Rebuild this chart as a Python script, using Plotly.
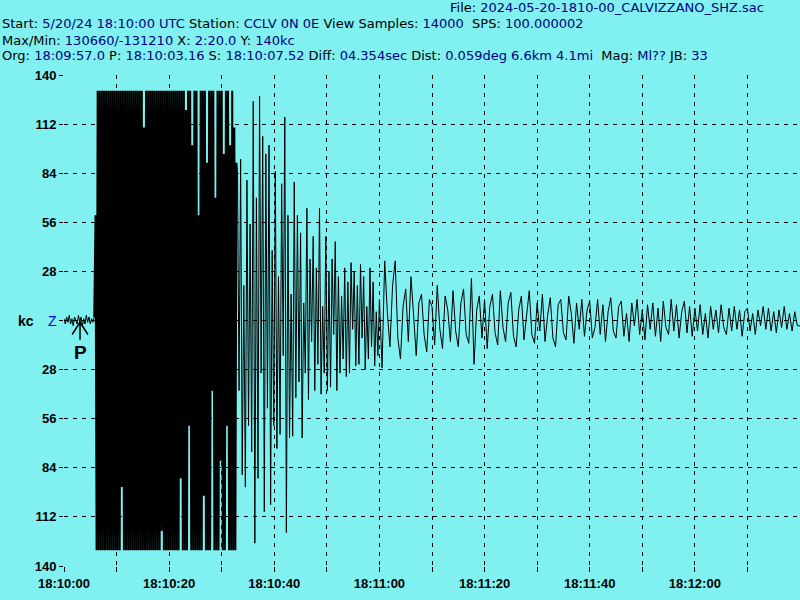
import numpy as np
import plotly.graph_objects as go

# ---- data (kc counts) ----
noise_t0, noise_dt = 0.0, 0.25
noise_vals = [1, -2, 2, -1, 3, -2, 1, -3, 2, 0, -2, 3, -1, 2, -3, 1, -2, 3, -1, 2, -2, 1, -1, 2]

strong_t0, strong_dt = 6.0, 0.2
strong_vals = [
    60, -131, 131, -131, 131, -131, 131, -131, 131, -131,
    131, -131, 131, -131, 131, -131, 131, -131, 131, -131,
    131, -131, 131, -131, 131, -95, 131, -131, 131, -131,
    131, -131, 131, -131, 131, -131, 131, -131, 131, -131,
    131, -131, 131, -131, 131, -131, 110, -131, 131, -131,
    131, -131, 131, -131, 131, -131, 131, -131, 131, -131,
    131, -131, 131, -120, 131, -131, 131, -131, 131, -131,
    131, -131, 131, -131, 131, -131, 131, -131, 131, -131,
    131, -90, 131, -131, 131, -131, 120, -131, 131, -60,
    131, -131, 100, -131, 131, -131, 131, -131, 60, -131,
    131, -131, 131, -100, 131, -131, 90, -131, 131, -131,
    131, -40, 131, -131, 70, -131, 131, -131, 131, -80,
    131, -131, 95, -131, 131, -60, 131, -131, 100, -131,
    131, -131, 110, -131, 90,
]

decay_t0, decay_dt = 33.0, 0.3
decay_vals = [
    85, -40, 92, -88, 20, -95, 80, -60, 55, -75,
    125, -127, 70, -90, 128, -30, 105, -109, 95, -50,
    100, -105, 40, -60, 85, -73, 25, -65, 78, -20,
    116, -121, 60, -67, 15, -66, 79, -44, 60, -35,
    50, -67, 10, -30, 64, -45, 35, -12, 48, -40,
    30, -25, 64, -42, 8, -30, 48, -40, 28, -38,
    35, -8, 45, -40, 25, -30, 14, -22, 30, -32,
    22, -30, 33, -5, 28, -26, 20, -25, 32, -10,
    25, -28, 8, -22, 30, -15, 22, -26, 5, -20,
]

coda_t0, coda_dt = 60.0, 0.5
coda_vals = [
    12, -27, 34, 5, -15, 20, 34, -10, -22, 8,
    18, -12, 25, 3, -20, 10, 15, -8, -18, 12,
    8, -14, 20, -5, -16, 14, 6, -12, 17, -6,
    -15, 10, 18, -8, -13, 24, -25, 6, 14, -10,
    12, -16, 8, 15, -7, -14, 17, -4, -12, 10,
    16, -9, -15, 6, 14, -11, 5, 17, -8, -13,
    10, -6, 15, -12, 3, 13, -10, -15, 9, 12,
    -7, -11, 14, 4, -13, 10, -5, 12, -9, 6,
    11, -10, -4, 12, -8, 9, -12, 5, 13, -6,
    -10, 8, 11, -9, 4, -12, 10, -3, 12, -8,
    6, -11, 9, -5, 10, -9, 7, -12, 11, -4,
    -8, 12, -6, 9, -10, 5, 11, -7, 8, -9,
    7, -6, 9, -8, 4, -10, 8, -5, 6, -7,
    9, -4, -8, 7, -6, 8, -5, 6, -9, 5,
    7, -6, 4, -8, 6, -3, 8, -5, 7, -6,
    5, -7, 6, -4, 8, -5, 4, -6, 5, -3,
]

p_pick_time = 3.05  # marker position of the P pick on the time axis (s)

x_tick_vals = [0, 10, 20, 30, 40, 50, 60, 70, 80, 90, 100, 110, 120, 130]
x_tick_text = ["18:10:00", "", "18:10:20", "", "18:10:40", "", "18:11:00", "",
               "18:11:20", "", "18:11:40", "", "18:12:00", ""]
y_tick_vals = [140, 112, 84, 56, 28, 0, -28, -56, -84, -112, -140]
y_tick_text = ["140", "112", "84", "56", "28", "", "28", "56", "84", "112", "140"]

BG = "#80F0F0"
NAVY = "#000080"
FONT = "Liberation Sans"
HFONT = "DejaVu Sans"

fig = go.Figure()

# ---- one trace per segment, joined end to start ----
segments = [(noise_t0, noise_dt, noise_vals, 1),
            (strong_t0, strong_dt, strong_vals, 2),
            (decay_t0, decay_dt, decay_vals, 1),
            (coda_t0, coda_dt, coda_vals, 1)]
prev = None
for t0, dt, vals, w in segments:
    ts = (t0 + dt * np.arange(len(vals))).tolist()
    vs = list(vals)
    if prev is not None:
        ts = [prev[0]] + ts
        vs = [prev[1]] + vs
    prev = (ts[-1], vs[-1])
    fig.add_trace(go.Scatter(x=ts, y=vs, mode="lines", line=dict(color="black", width=w),
                             hoverinfo="skip", showlegend=False))
fig.add_trace(go.Scatter(x=[prev[0], 140.0], y=[prev[1], coda_vals[-1]], mode="lines",
                         line=dict(color="black", width=1), hoverinfo="skip", showlegend=False))

grid = dict(showgrid=True, gridcolor="black", gridwidth=1, griddash="4px,5px", zeroline=False,
            showline=False, ticks="outside", tickcolor="black", tickwidth=1)
fig.update_xaxes(range=[0, 140], tickmode="array", tickvals=x_tick_vals, ticktext=x_tick_text,
                 ticklen=5, tickfont=dict(family=FONT, size=13, color="black", weight="bold"), **grid)
fig.update_yaxes(range=[-140, 140], tickmode="array", tickvals=y_tick_vals, ticktext=y_tick_text,
                 ticklen=4, tickfont=dict(family=FONT, size=13, color="black", weight="bold"), **grid)

L, T, W, H = 64, 75, 736, 491


def px(x):
    return (x - L) / W


def py(y):
    return (T + H - y) / H


def span(s):
    return f"<span style='color:{NAVY}'>{s}</span>"


header = [
    (448, 8, "File: " + span("2024-05-20-1810-00_CALVIZZANO_SHZ.sac")),
    (0, 23, "Start: " + span("5/20/24 18:10:00 UTC") + " Station: " + span("CCLV 0N 0E")
     + " View Samples: " + span("14000") + "&nbsp; SPS: " + span("100.000002")),
    (0, 40, "Max/Min: " + span("130660/-131210") + " X: " + span("2:20.0") + " Y: " + span("140kc")),
    (0, 56, "Org: " + span("18:09:57.0") + " P: " + span("18:10:03.16") + " S: " + span("18:10:07.52")
     + " Diff: " + span("04.354sec") + " Dist: " + span("0.059deg 6.6km 4.1mi") + "&nbsp; Mag: "
     + span("Ml??") + " JB: " + span("33")),
]
for x, y, txt in header:
    fig.add_annotation(x=px(x), y=py(y), xref="paper", yref="paper", xanchor="left", yanchor="middle",
                       text=txt, showarrow=False, font=dict(family=HFONT, size=13, color="black"))

fig.add_annotation(x=px(26), y=0, xref="paper", yref="y", xanchor="center", yanchor="middle",
                   text="kc", showarrow=False,
                   font=dict(family=FONT, size=14, color="black", weight="bold"))
fig.add_annotation(x=px(52.5), y=0, xref="paper", yref="y", xanchor="center", yanchor="middle",
                   text="Z", showarrow=False, font=dict(family=FONT, size=14, color="#0000C0"))

# P pick marker: open arrow head with stem, label below
fig.add_shape(type="path", xref="x", yref="y",
              path=(f"M {p_pick_time - 1.5} -8 L {p_pick_time} -1 L {p_pick_time + 1.5} -8 "
                    f"M {p_pick_time} -1 L {p_pick_time} -11"),
              line=dict(color="black", width=1.5))
fig.add_annotation(x=p_pick_time, y=-18, xref="x", yref="y", xanchor="center", yanchor="middle",
                   text="P", showarrow=False,
                   font=dict(family=FONT, size=19, color="black", weight="bold"))

fig.update_layout(width=800, height=600, margin=dict(l=L, r=0, t=T, b=600 - T - H, pad=0),
                  paper_bgcolor=BG, plot_bgcolor=BG, showlegend=False)

fig.write_html("out.html", config={"displayModeBar": False},
               post_script="document.body.style.margin='0';")
